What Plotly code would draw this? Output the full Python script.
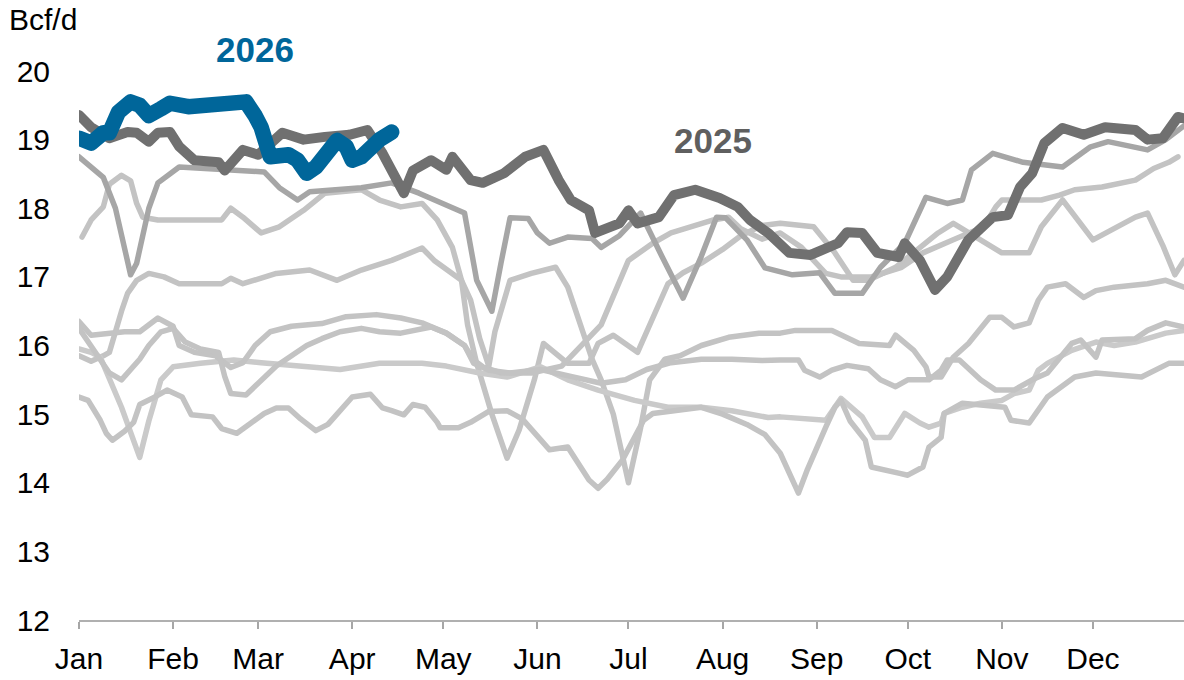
import pandas as pd
import plotly.graph_objects as go

# ---- data: day-of-year (0 = Jan 1) and values in Bcf/d ----
d2026 = [0,4,8,10,13,17,20,23,27,30,36,43,49,55,58,60,63,69,72,75,78,80,85,88,90,93,96,99,103]
v2026 = [19.02,18.95,19.1,19.1,19.4,19.55,19.5,19.35,19.45,19.53,19.48,19.5,19.55,19.55,19.35,19.18,18.75,18.78,18.7,18.51,18.6,18.7,18.99,18.9,18.7,18.75,18.9,19.0,19.11]

d2025 = [0,4,10,16,19,23,26,30,33,38,46,48,54,59,67,74,81,89,95,100,107,110,116,121,123,129,133,140,147,153,158,162,168,170,178,181,184,191,196,203,211,217,221,227,234,241,250,253,258,263,270,272,277,282,286,293,301,306,310,314,318,324,331,338,348,352,357,362,364]
v2025 = [19.36,19.18,19.02,19.11,19.1,18.97,19.1,19.11,18.9,18.7,18.67,18.55,18.85,18.78,19.1,19.0,19.04,19.07,19.14,18.8,18.22,18.55,18.7,18.56,18.75,18.41,18.37,18.51,18.75,18.85,18.41,18.12,17.97,17.64,17.78,17.97,17.78,17.87,18.19,18.27,18.15,18.02,17.83,17.64,17.35,17.32,17.49,17.65,17.64,17.35,17.29,17.49,17.24,16.81,17.0,17.54,17.87,17.9,18.31,18.51,18.95,19.17,19.07,19.18,19.14,19.0,19.02,19.33,19.31]

dA = [0,8,12,15,17,19,21,23,26,33,61,66,72,76,93,103,112,127,131,136,139,142,148,151,155,161,169,172,178,183,185,192,199,205,210,213,220,226,235,244,249,258,264,272,279,286,291,294,301,311,324,333,339,352,358,364]
vA = [18.75,18.45,18.0,17.4,17.03,17.2,17.6,18.0,18.37,18.6,18.53,18.3,18.12,18.24,18.3,18.37,18.22,17.93,16.95,16.5,17.2,17.86,17.85,17.64,17.49,17.58,17.56,17.43,17.6,17.83,17.93,17.3,16.69,17.3,17.87,17.86,17.54,17.13,17.03,17.06,16.76,16.76,17.14,17.49,18.16,18.07,18.12,18.56,18.8,18.67,18.6,18.89,18.97,18.85,19.0,19.2]

dB = [1,4,8,10,14,17,19,21,26,47,50,54,60,66,74,81,93,99,106,113,118,123,126,128,131,136,141,145,150,153,161,168,171,176,184,188,194,199,205,212,218,225,231,242,249,255,260,269,275,283,288,293,304,313,317,324,334,348,352,357,361,364]
vB = [17.58,17.83,18.02,18.35,18.48,18.4,18.07,17.87,17.83,17.83,18.0,17.87,17.64,17.73,17.97,18.22,18.27,18.12,18.02,18.07,17.83,17.43,16.95,16.3,15.74,15.0,14.36,14.77,15.5,16.03,15.74,15.74,16.03,16.15,15.9,16.3,16.9,17.06,17.2,17.4,17.6,17.75,17.78,17.73,17.35,16.95,16.95,17.14,17.35,17.64,17.78,17.64,17.35,17.35,17.73,18.12,17.54,17.87,17.93,17.46,17.03,17.24]

dC = [0,4,8,10,14,16,19,23,28,33,47,50,54,65,76,85,93,103,113,117,126,129,132,135,137,142,149,157,161,165,169,172,176,181,185,188,193,198,205,214,224,231,236,248,257,267,269,275,279,280,284,288,293,300,304,308,313,316,319,325,331,335,341,352,358,364]
vC = [15.85,15.77,15.85,15.9,16.5,16.76,16.95,17.05,17.0,16.9,16.9,16.98,16.9,17.05,17.1,16.95,17.1,17.24,17.42,17.24,16.95,16.66,16.1,15.7,16.2,16.95,17.05,17.14,16.85,16.3,15.8,15.5,15.0,14.0,14.8,15.5,15.8,15.85,16.0,16.12,16.18,16.18,16.22,16.22,16.03,16.0,16.15,15.93,15.69,15.54,15.54,15.83,16.03,16.41,16.41,16.27,16.33,16.66,16.85,16.9,16.7,16.8,16.85,16.9,16.95,16.85]

dP = [0,4,7,14,20,23,27,31,40,51,60,73,86,99,113,121,132,141,152,161,171,183,194,205,215,227,231,246,251,258,262,267,272,277,280,284,285,291,297,304,308,313,316,319,327,335,341,348,358,364]
vP = [15.95,15.9,15.83,15.1,14.37,14.9,15.5,15.69,15.74,15.79,15.75,15.7,15.65,15.74,15.74,15.7,15.6,15.54,15.69,15.5,15.35,15.2,15.1,15.1,15.05,14.95,14.96,14.91,15.23,14.96,14.66,14.66,15.01,14.87,14.81,14.87,15.01,15.1,15.16,15.2,15.3,15.35,15.64,15.74,15.93,16.05,16.0,16.05,16.18,16.22]

dQ = [0,3,7,9,11,15,18,20,25,29,34,37,44,47,52,56,61,65,69,73,78,82,86,90,96,100,103,107,110,114,118,119,125,129,135,141,146,150,155,161,165,168,171,174,179,183,186,189,195,205,212,220,226,231,237,240,246,249,251,254,259,261,270,273,278,280,284,285,291,305,307,313,319,325,328,335,350,359,364]
vQ = [15.25,15.2,14.91,14.72,14.62,14.75,14.88,15.14,15.25,15.35,15.25,14.99,14.96,14.79,14.72,14.85,15.01,15.09,15.09,14.93,14.76,14.85,15.04,15.25,15.29,15.09,15.05,14.99,15.14,15.1,14.88,14.8,14.8,14.88,15.04,15.05,14.93,14.72,14.48,14.52,14.23,14.04,13.92,14.05,14.33,14.66,14.91,15.01,15.05,15.1,15.0,14.85,14.7,14.43,13.85,14.2,14.81,15.1,15.2,14.9,14.62,14.23,14.14,14.11,14.23,14.52,14.66,15.01,15.16,15.1,14.91,14.87,15.25,15.45,15.54,15.6,15.54,15.74,15.74]

dR = [0,4,15,20,26,31,33,38,45,50,54,58,63,70,80,88,98,106,113,121,127,130,133,139,149,159,172,181,189,195,209,214,218,225,231,238,242,246,251,261,271,278,288,298,302,304,317,323,328,337,348,354,359,362]
vR = [16.35,16.15,16.2,16.2,16.4,16.28,16.0,15.9,15.85,15.68,15.75,16.0,16.2,16.28,16.32,16.42,16.45,16.4,16.33,16.18,16.0,15.79,15.69,15.6,15.6,15.7,16.3,17.24,17.49,17.64,17.83,17.87,17.7,17.55,17.64,17.43,17.24,17.05,17.0,17.0,17.14,17.35,17.54,17.73,18.02,18.12,18.12,18.19,18.27,18.31,18.41,18.58,18.67,18.75]

dS = [0,4,7,10,14,17,20,23,27,31,35,40,46,48,50,55,60,65,70,75,80,86,93,99,106,116,121,127,130,135,142,152,162,172,180,187,195,205,215,225,231,237,239,244,248,253,260,264,269,273,280,284,286,290,297,302,308,314,319,323,327,330,335,337,348,352,358,364]
vS = [16.25,16.0,15.8,15.6,15.5,15.65,15.8,16.0,16.2,16.25,16.05,15.95,15.9,15.55,15.3,15.28,15.5,15.7,15.85,16.0,16.1,16.2,16.25,16.2,16.18,16.27,16.18,16.0,15.74,15.64,15.6,15.65,15.55,15.45,15.5,15.65,15.75,15.8,15.8,15.78,15.79,15.79,15.64,15.54,15.64,15.71,15.66,15.5,15.4,15.5,15.5,15.64,15.79,15.79,15.5,15.35,15.35,15.5,15.6,15.83,16.03,16.08,15.83,16.08,16.1,16.22,16.33,16.27]

month_labels = ["Jan","Feb","Mar","Apr","May","Jun","Jul","Aug","Sep","Oct","Nov","Dec"]
y_ticks = [12,13,14,15,16,17,18,19,20]

base = pd.Timestamp("2025-01-01")
def to_dates(days):
    return base + pd.to_timedelta(days, unit="D")

FONT = "Liberation Sans, Arial, sans-serif"
LIGHT = "#C3C3C3"
DARKG = "#A6A6A6"

fig = go.Figure()
history = [(dB, vB, LIGHT), (dC, vC, LIGHT), (dP, vP, "#CACACA"), (dQ, vQ, LIGHT),
           (dR, vR, LIGHT), (dS, vS, LIGHT), (dA, vA, DARKG)]
for d, v, c in history:
    fig.add_trace(go.Scatter(x=to_dates(d), y=v, mode="lines",
                             line=dict(color=c, width=5.5), hoverinfo="skip"))
fig.add_trace(go.Scatter(x=to_dates(d2025), y=v2025, mode="lines",
                         line=dict(color="#707070", width=10)))
fig.add_trace(go.Scatter(x=to_dates(d2026), y=v2026, mode="lines",
                         line=dict(color="#00669A", width=15.5)))

month_starts = [pd.Timestamp(2025, m, 1) for m in range(1, 13)]

fig.update_layout(
    width=1184, height=680,
    margin=dict(l=79, r=0, t=71, b=60, autoexpand=False),
    paper_bgcolor="white", plot_bgcolor="white",
    showlegend=False,
    font=dict(family=FONT, size=30, color="black"),
    xaxis=dict(
        type="date", automargin=False,
        range=[base, base + pd.Timedelta(days=364)],
        tickmode="array", tickvals=month_starts, ticktext=month_labels,
        ticks="outside", ticklen=7, tickwidth=1.5, tickcolor="#A6A6A6",
        showline=True, linecolor="#B0B0B0", linewidth=2,
        showgrid=False, zeroline=False,
        tickfont=dict(family=FONT, size=30, color="black"),
        ticklabelstandoff=4,
    ),
    yaxis=dict(
        range=[12, 20], automargin=False,
        tickmode="array", tickvals=y_ticks,
        ticktext=[str(t) for t in y_ticks],
        showgrid=False, zeroline=False, showline=False, ticks="",
        tickfont=dict(family=FONT, size=30, color="black"),
        ticklabelstandoff=28,
    ),
    annotations=[
        dict(text="Bcf/d", xref="paper", yref="paper", x=-0.065, y=1.093,
             xanchor="left", yanchor="middle", showarrow=False,
             font=dict(family=FONT, size=30, color="black")),
        dict(text="<b>2026</b>", xref="x", yref="paper",
             x=base + pd.Timedelta(days=58), y=1.04,
             xanchor="center", yanchor="middle", showarrow=False,
             font=dict(family=FONT, size=35, color="#00669A")),
        dict(text="<b>2025</b>", xref="x", yref="y",
             x=base + pd.Timedelta(days=209), y=18.99,
             xanchor="center", yanchor="middle", showarrow=False,
             font=dict(family=FONT, size=35, color="#5F5F5F")),
    ],
)

post = ("document.body.style.margin='0';document.body.style.overflow='hidden';"
        "document.querySelectorAll('.scatterlayer path.js-line').forEach(function(p){"
        "p.style.strokeLinejoin='round';p.style.strokeLinecap='round';});")

fig.write_html("out.html", config={"displayModeBar": False}, post_script=post)
